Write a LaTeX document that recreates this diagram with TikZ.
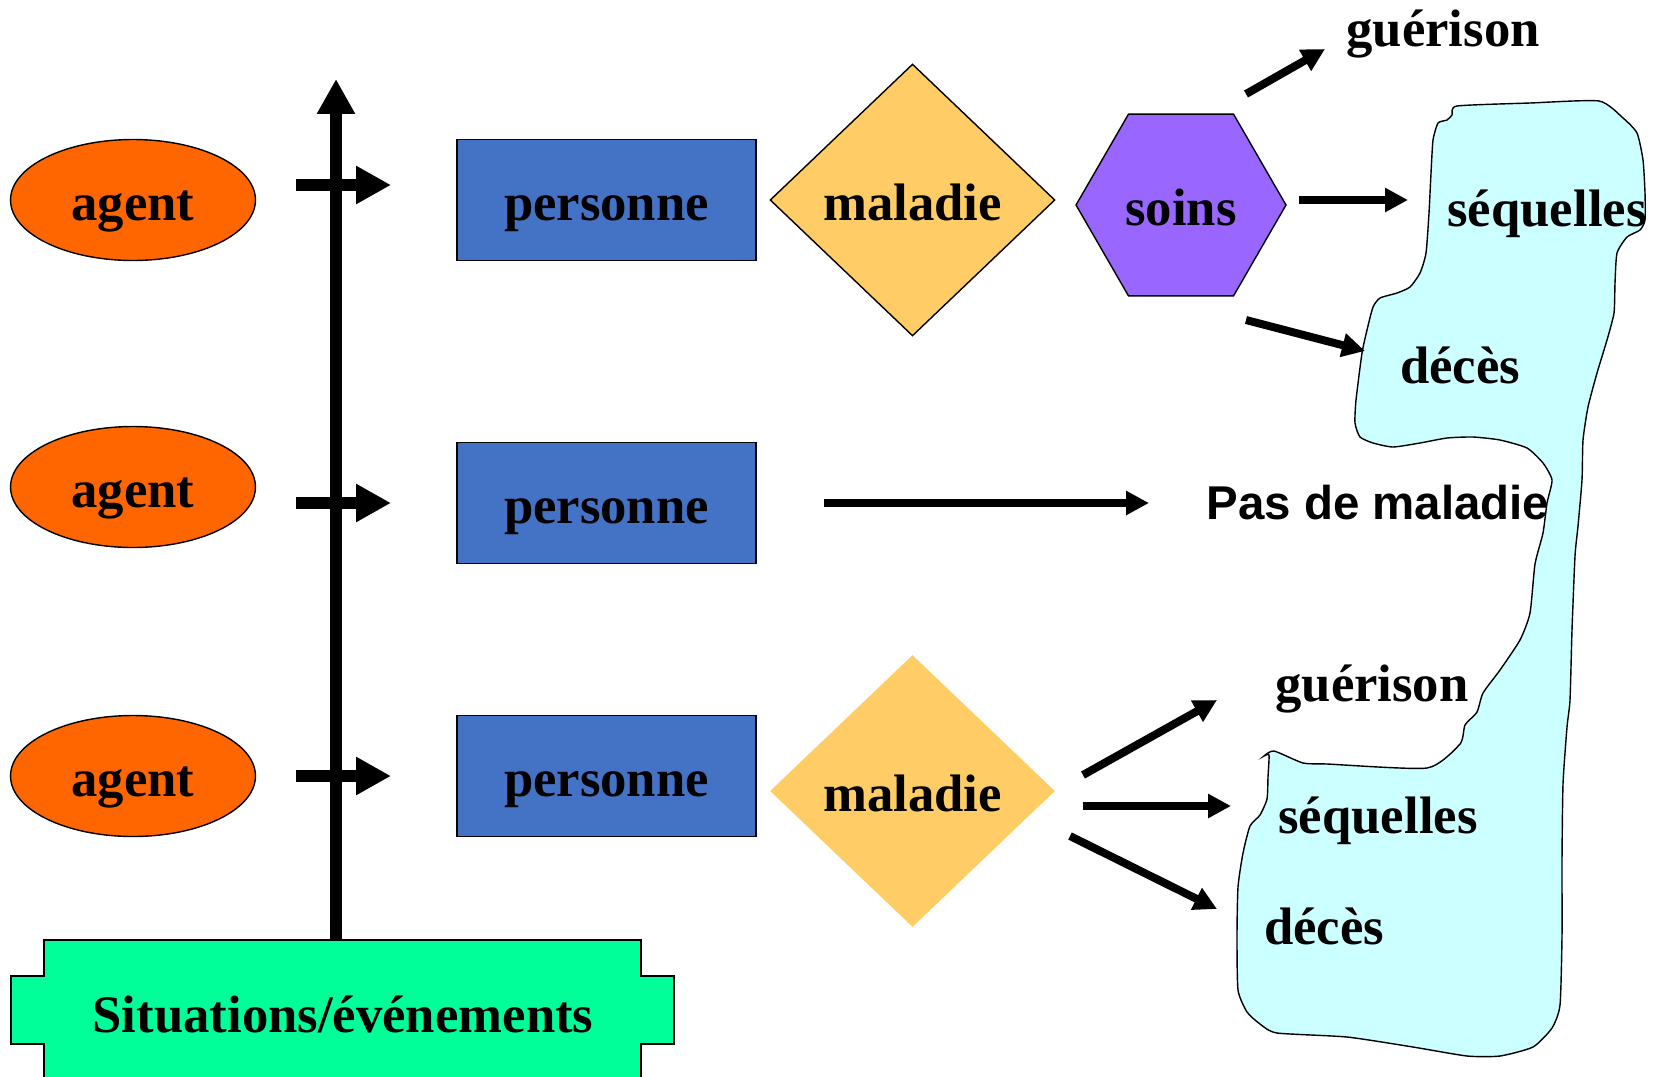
\documentclass[tikz,border=0pt]{standalone}
\usepackage{fontspec}
\setmainfont{Liberation Serif}
\newfontfamily\arialfont{Liberation Sans}
\usetikzlibrary{shapes.geometric,arrows.meta}
\definecolor{agentorange}{HTML}{FF6600}
\definecolor{personblue}{HTML}{4472C4}
\definecolor{illyellow}{HTML}{FFCC66}
\definecolor{carepurple}{HTML}{9966FF}
\definecolor{situgreen}{HTML}{00FF99}
\definecolor{blobcyan}{HTML}{CCFFFF}
\tikzset{
  word/.style={font=\fontsize{30}{36}\selectfont\bfseries},
  inword/.style={word,text height=0.8cm,text depth=0pt},
  agentnode/.style={ellipse,draw=black,line width=0.8pt,fill=agentorange,minimum width=4.9cm,minimum height=2.42cm,inner sep=0pt,inword},
  personbox/.style={rectangle,draw=black,line width=0.8pt,fill=personblue,minimum width=5.98cm,minimum height=2.42cm,inner sep=0pt,inword},
  illnode/.style={diamond,fill=illyellow,minimum width=5.7cm,minimum height=5.44cm,inner sep=0pt,inword},
  carenode/.style={regular polygon,regular polygon sides=6,draw=black,line width=0.8pt,fill=carepurple,minimum size=4.2cm,inner sep=0pt,inword},
  axisarrow/.style={line width=0.24cm,-{Triangle[length=0.7cm,width=0.72cm]}},
  outarrow/.style={line width=0.16cm,-{Triangle[length=0.46cm,width=0.46cm]}}
}
\begin{document}
\begin{tikzpicture}[x=0.02cm,y=-0.02cm]
\useasboundingbox (0,0) rectangle (1656,1076);
\clip (0,0) rectangle (1656,1076);
% zone des issues
\draw[line width=0.8pt,fill=blobcyan] plot[smooth cycle,tension=0.35] coordinates {
  (1457,106) (1530,103) (1599,101) (1623,118) (1637,133) (1643,160) (1645,193)
  (1645,220) (1640,230) (1627,237) (1617,253) (1615,283) (1614,313) (1607,340)
  (1597,373) (1588,407) (1583,440) (1582,480) (1578,526) (1575,556) (1572,630)
  (1570,700) (1567,727) (1563,784) (1562,860) (1562,936) (1560,1005) (1552,1028)
  (1533,1047) (1500,1056) (1467,1056) (1413,1047) (1347,1037) (1277,1033) (1260,1024)
  (1247,1012) (1238,990) (1237,936) (1238,887) (1243,853) (1250,826) (1260,815)
  (1267,799) (1268,777) (1269,755) (1264,756) (1274,751) (1303,763) (1327,764)
  (1427,768) (1460,744) (1465,725) (1477,712) (1483,693) (1500,670) (1520,640)
  (1530,613) (1535,564) (1543,533) (1547,503) (1552,480) (1543,463) (1527,448)
  (1500,440) (1473,437) (1447,438) (1420,443) (1393,447) (1373,443) (1360,437)
  (1355,423) (1356,400) (1362,353) (1367,330) (1373,307) (1380,298) (1397,293)
  (1410,287) (1420,273) (1426,253) (1429,213) (1431,173) (1433,140) (1438,123)
  (1447,120) (1452,115)};
% situations
\draw[line width=0.8pt,fill=situgreen] (44,940) -- (641,940) -- (641,976) -- (674,976)
  -- (674,1044) -- (641,1044) -- (641,1110) -- (44,1110) -- (44,1044) -- (11,1044)
  -- (11,976) -- (44,976) -- cycle;
\node[inword] (situ) at (343,1012) {Situations/événements};
% noeuds
\node[agentnode] (agentA) at (133,200) {agent};
\node[agentnode] (agentB) at (133,487) {agent};
\node[agentnode] (agentC) at (133,776) {agent};
\node[personbox] (persA) at (606.5,200) {personne};
\node[personbox] (persB) at (606.5,503) {personne};
\node[personbox] (persC) at (606.5,776) {personne};
\node[illnode,draw=black,line width=0.8pt] (illA) at (912.5,200) {maladie};
\node[illnode] (illC) at (912.5,791) {maladie};
\node[carenode] (soins) at (1181,205) {soins};
% axe du temps
\coordinate (axisbot) at (336,940);
\coordinate (axistop) at (336,79);
\draw[axisarrow] (axisbot) -- (axistop);
\coordinate (tickA0) at (296,185);
\coordinate (tickA1) at (391,185);
\coordinate (tickB0) at (296,503);
\coordinate (tickB1) at (391,503);
\coordinate (tickC0) at (296,776);
\coordinate (tickC1) at (391,776);
\draw[axisarrow] (tickA0) -- (tickA1);
\draw[axisarrow] (tickB0) -- (tickB1);
\draw[axisarrow] (tickC0) -- (tickC1);
% issues
\node[word] (guerA) at (1443,34) {guérison};
\node[word] (seqA) at (1547,214) {séquelles};
\node[word] (decA) at (1460,365) {décès};
\node[font=\arialfont\fontsize{27}{32}\selectfont\bfseries] (nodis) at (1378,503) {Pas de maladie};
\node[word] (guerC) at (1372,689) {guérison};
\node[word] (seqC) at (1378,821) {séquelles};
\node[word] (decC) at (1324,926) {décès};
% fleches
\coordinate (sA1) at (1246,94);
\coordinate (eA1) at (1325,49);
\coordinate (sA2) at (1299,200);
\coordinate (eA2) at (1408,200);
\coordinate (sA3) at (1246,320);
\coordinate (eA3) at (1365,351);
\coordinate (sB) at (824,503);
\coordinate (eB) at (1149,503);
\coordinate (sC1) at (1083,775);
\coordinate (eC1) at (1217,700);
\coordinate (sC2) at (1083,806);
\coordinate (eC2) at (1231,806);
\coordinate (sC3) at (1070,836);
\coordinate (eC3) at (1217,909);
\draw[outarrow] (sA1) -- (eA1);
\draw[outarrow] (sA2) -- (eA2);
\draw[outarrow] (sA3) -- (eA3);
\draw[outarrow] (sB) -- (eB);
\draw[outarrow] (sC1) -- (eC1);
\draw[outarrow] (sC2) -- (eC2);
\draw[outarrow] (sC3) -- (eC3);
\end{tikzpicture}
\end{document}
